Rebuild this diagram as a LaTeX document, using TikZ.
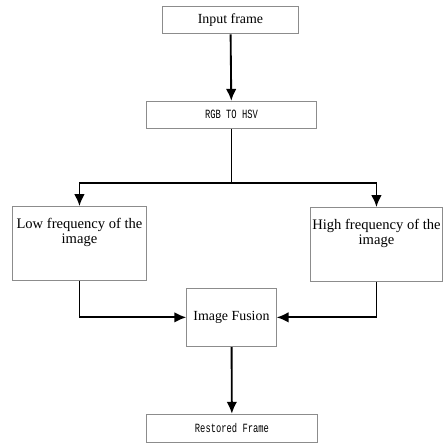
\documentclass[tikz,border=0pt]{standalone}
\usepackage{fontspec}
\setmainfont{Liberation Serif}
\newfontfamily\codefont[FakeStretch=0.7]{Liberation Mono}
\usepackage{tikz}
\usetikzlibrary{positioning,arrows.meta}
\definecolor{boxgray}{RGB}{140,140,140}

\begin{document}
\begin{tikzpicture}[x=0.75pt,y=0.75pt,
box/.style={draw=boxgray,line width=0.75pt,rectangle,inner sep=2pt,align=center,
    font=\fontsize{10.5}{11.5}\selectfont},
codebox/.style={box,font=\codefont\fontsize{9.5}{11}\selectfont},
freqtext/.style={below=5.5pt,align=center,font=\fontsize{11}{11.5}\selectfont},
flowarr/.style={line width=1.4pt,-{Latex[length=9pt,width=8pt]}},
flowline/.style={line width=1.4pt}]
\fill[white] (0,0) rectangle (443,445);

\node (inframe) [box,minimum width=102.75pt,minimum height=20.25pt] at (232,424.5) {Input frame};
\node (rgbhsv) [codebox,minimum width=129pt,minimum height=20.25pt] at (233,329.5) {RGB TO HSV};

\node (lowfreq) [box,minimum width=100.5pt,minimum height=55.5pt,
    label={[freqtext]north:Low frequency of the\\image}] at (80,200) {};
\node (highfreq) [box,minimum width=99pt,minimum height=55.5pt,
    label={[freqtext]north:High frequency of the\\image}] at (379,199) {};

\node (fusion) [box,minimum width=67.5pt,minimum height=44.25pt] at (233,125.5) {Image Fusion};
\node (restored) [codebox,minimum width=129.75pt,minimum height=21pt] at (233.5,14) {Restored Frame};

\coordinate (split) at (233,261);

\draw[flowarr] (inframe) -- (rgbhsv);
\draw[flowline] (rgbhsv) -- (split);
\draw[flowarr] (split) -| (lowfreq.north);
\draw[flowarr] (split) -| (highfreq.north);
\draw[flowarr] (lowfreq.south) |- (fusion.west);
\draw[flowarr] (highfreq.south) |- (fusion.east);
\draw[flowarr] (fusion) -- (restored);
\useasboundingbox (0,0) rectangle (443,445);
\end{tikzpicture}
\end{document}
